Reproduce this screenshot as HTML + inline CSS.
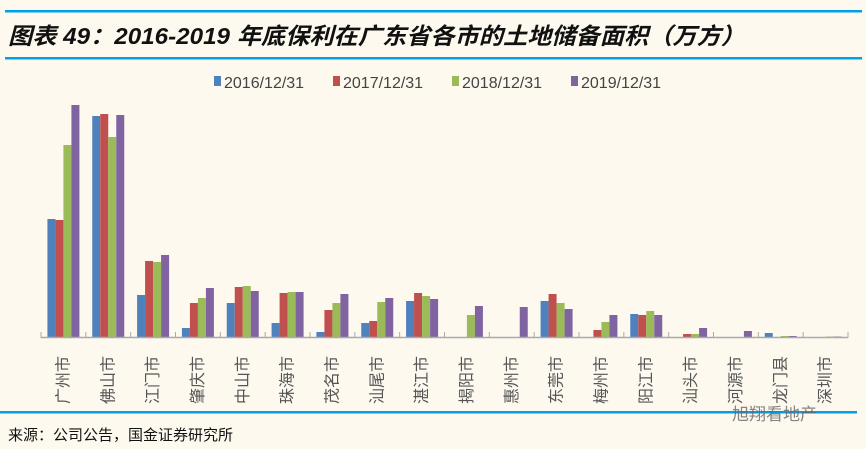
<!DOCTYPE html>
<html><head><meta charset="utf-8"><style>
body{margin:0;background:#fdf9ef;}
svg{display:block;font-family:"Liberation Sans","Noto Sans CJK SC",sans-serif;}
</style></head><body>
<svg id="chart" width="866" height="449" viewBox="0 0 866 449">
<rect width="866" height="449" fill="#fdf9ef"/>
<rect x="5" y="10" width="857" height="2.5" fill="#00a0e9"/>
<rect x="5" y="57" width="857" height="2.5" fill="#00a0e9"/>
<text x="8" y="44" font-size="23" font-weight="bold" font-style="italic" fill="#111" textLength="737" lengthAdjust="spacingAndGlyphs">图表 49：2016-2019 年底保利在广东省各市的土地储备面积（万方）</text>
<g id="legend"></g>
<g id="bars"></g>
<g id="axis"></g>
<rect x="0" y="411" width="857" height="2.5" fill="#00a0e9"/>
<text x="8" y="440" font-size="15" fill="#111">来源：公司公告，国金证券研究所</text>
<text x="732" y="420" font-size="17" fill="#666" opacity="0.8">旭翔看地产</text>
</svg>
<script>
const categories=["广州市","佛山市","江门市","肇庆市","中山市","珠海市","茂名市","汕尾市","湛江市","揭阳市","惠州市","东莞市","梅州市","阳江市","汕头市","河源市","龙门县","深圳市"];
const seriesNames=["2016/12/31","2017/12/31","2018/12/31","2019/12/31"];
const s2016=[118,221,42,9,34,14,5,14,36,0,0,36,0,23,0,0,4,0];
const s2017=[117,223,76,34,50,44,27,16,44,0,0,43,7,22,3,0,0,0];
const s2018=[192,200,75,39,51,45,34,35,41,22,0,34,15,26,3,0,1,0.5];
const s2019=[232,222,82,49,46,45,43,39,38,31,30,28,22,22,9,6,1,0.5];
const series=[s2016,s2017,s2018,s2019];
const colors=["#4f81bd","#c0504d","#9bbb59","#8064a2"];
const NS="http://www.w3.org/2000/svg";
const x0=41,x1=848,base=337,step=(x1-x0)/categories.length,bw=8;
function yScale(v){return base-v;}
function xCenter(i){return x0+step*(i+0.5);}
const bars=document.getElementById('bars'),axis=document.getElementById('axis'),legend=document.getElementById('legend');
series.forEach((s,si)=>{s.forEach((v,i)=>{
 const r=document.createElementNS(NS,'rect');
 r.setAttribute('x',xCenter(i)-16+si*bw);
 r.setAttribute('y',yScale(v));
 r.setAttribute('width',bw);
 r.setAttribute('height',base-yScale(v));
 r.setAttribute('fill',colors[si]);
 
 
 bars.appendChild(r);
});});
const ln=document.createElementNS(NS,'line');
ln.setAttribute('x1',x0);ln.setAttribute('x2',x1);ln.setAttribute('y1',base+0.5);ln.setAttribute('y2',base+0.5);
ln.setAttribute('stroke','#aaa');ln.setAttribute('stroke-width','1.5');


axis.appendChild(ln);
for(let i=0;i<=categories.length;i++){
 const t=document.createElementNS(NS,'line');
 const x=x0+step*i;
 t.setAttribute('x1',x);t.setAttribute('x2',x);t.setAttribute('y1',base-5);t.setAttribute('y2',base+1);
 t.setAttribute('stroke','#aaa');t.setAttribute('stroke-width','1');
 
 
 axis.appendChild(t);
}
categories.forEach((c,i)=>{
 const t=document.createElementNS(NS,'text');
 const x=xCenter(i)+5,y=404;
 t.setAttribute('transform','translate('+x+','+y+') rotate(-90)');
 t.setAttribute('font-size','16');t.setAttribute('fill','#555');
 t.textContent=c;
 
 
 axis.appendChild(t);
});
const lx=[214,333,452,571];
seriesNames.forEach((n,si)=>{
 const r=document.createElementNS(NS,'rect');
 r.setAttribute('x',lx[si]);r.setAttribute('y',76);r.setAttribute('width',7);r.setAttribute('height',10);
 r.setAttribute('fill',colors[si]);
 
 
 legend.appendChild(r);
 const t=document.createElementNS(NS,'text');
 t.setAttribute('x',lx[si]+10);t.setAttribute('y',88);t.setAttribute('font-size','16');t.setAttribute('fill','#444');
 t.textContent=n;
 
 
 legend.appendChild(t);
});
</script>
</body></html>
